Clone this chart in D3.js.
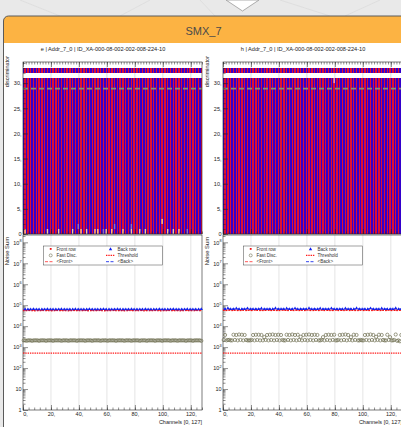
<!DOCTYPE html>
<html>
<head>
<meta charset="utf-8">
<script src="https://cdn.jsdelivr.net/npm/d3@7"></script>
<style>
body { margin: 0; background: #e9e9e9; overflow: hidden; }
svg { display: block; font-family: "Liberation Sans", Arial, sans-serif; }
</style>
</head>
<body>
<svg id="chart" width="401" height="427"></svg>
<script>
const headerTitle = "SMX_7";
const panelTitles = [
    "e | Addr_7_0 | ID_XA-000-08-002-002-008-224-10",
    "h | Addr_7_0 | ID_XA-000-08-002-002-008-224-10"
];
const nChannels = 128;
const chanTicks = [0, 20, 40, 60, 80, 100, 120];
const discTicks = [0, 5, 10, 15, 20, 25, 30];
const noiseDecades = [1, 10, 1e2, 1e3, 1e4, 1e5, 1e6, 1e7, 1e8];
const discFilledTop = 31;     // bins 0..30 filled in every channel
const discFastBin = 32;       // fast discriminator bin
const discMarkerLine = 28.9;  // grey dashed line
const noiseThreshold = 520;

// odd looking cells of the discriminator map: [channel, bin, kind]
const discCellsE = [
    [1, 0, "hot"], [17, 0, "hot"], [25, 0, "hot"], [35, 0, "hot"], [41, 0, "hot"], [45, 0, "hot"],
    [51, 0, "hot"], [53, 0, "hot"], [57, 0, "warm"], [59, 0, "hot"], [63, 0, "hot"], [71, 0, "hot"],
    [77, 0, "hot"], [83, 0, "hot"], [87, 0, "hot"], [103, 0, "hot"], [107, 0, "hot"], [111, 0, "hot"],
    [117, 0, "warm"], [39, 1, "warm"], [65, 1, "warm"], [77, 1, "warm"], [99, 2, "hot"]
];
const discCellsH = [[79, 30, "pale"]];

// noise sum (x1000) for front row (even channels) and back row (odd channels)
const noiseFrontE = [
    56, 56, 57, 56, 55, 56, 56, 57, 56, 56, 55, 56, 57, 56, 56, 56,
    55, 56, 57, 56, 56, 56, 57, 55, 56, 56, 56, 57, 56, 55, 56, 56,
    57, 56, 56, 56, 55, 56, 57, 56, 56, 56, 57, 55, 56, 56, 56, 57,
    56, 55, 56, 56, 57, 56, 56, 56, 55, 56, 57, 56, 56, 56, 57, 56
];
const noiseBackE = [
    64, 63, 64, 65, 64, 63, 64, 64, 65, 64, 63, 64, 64, 65, 64, 63,
    64, 64, 65, 64, 63, 64, 64, 65, 64, 63, 64, 64, 65, 64, 63, 64,
    64, 65, 64, 63, 64, 64, 65, 64, 63, 64, 64, 65, 64, 63, 64, 64,
    65, 64, 63, 64, 64, 65, 64, 63, 64, 64, 65, 64, 63, 64, 64, 65
];
const noiseFrontH = [
    58, 57, 60, 57, 58, 57, 57, 59, 57, 58, 57, 60, 58, 57, 57, 58,
    59, 57, 58, 57, 57, 60, 58, 57, 58, 57, 59, 57, 58, 57, 60, 57,
    57, 58, 57, 59, 57, 58, 57, 57, 60, 57, 58, 57, 59, 57, 58, 57,
    57, 59, 57, 58, 57, 57, 60, 58, 57, 58, 57, 59, 57, 58, 57, 58
];
const noiseBackH = [
    66, 72, 65, 66, 70, 65, 66, 65, 71, 66, 65, 66, 65, 70, 66, 65,
    66, 65, 72, 66, 65, 66, 70, 65, 66, 71, 65, 66, 65, 66, 72, 66,
    65, 66, 70, 65, 66, 65, 71, 66, 65, 66, 65, 70, 66, 65, 66, 72,
    66, 65, 66, 65, 71, 66, 65, 66, 70, 65, 66, 65, 66, 72, 65, 66
];
// fast discriminator counts (x100) per channel
const fastDiscE = [
    21, 21, 20, 21, 21, 21, 20, 21, 21, 21, 21, 20, 21, 21, 21, 21,
    20, 21, 21, 21, 21, 20, 21, 21, 21, 21, 21, 20, 21, 21, 21, 21,
    20, 21, 21, 21, 21, 21, 20, 21, 21, 21, 21, 21, 20, 21, 21, 21,
    21, 20, 21, 21, 21, 21, 21, 20, 21, 21, 21, 21, 20, 21, 21, 21,
    21, 21, 20, 21, 21, 21, 21, 21, 20, 21, 21, 21, 21, 20, 21, 21,
    21, 21, 21, 20, 21, 21, 21, 21, 20, 21, 21, 21, 21, 21, 20, 21,
    21, 21, 21, 20, 21, 21, 21, 21, 21, 20, 21, 21, 21, 21, 20, 21,
    21, 21, 21, 21, 20, 21, 21, 21, 21, 20, 21, 21, 21, 21, 21, 20
];
const fastDiscH = [
    22, 38, 21, 22, 22, 21, 21, 39, 22, 38, 21, 40, 22, 39, 21, 38,
    22, 21, 21, 21, 22, 38, 21, 39, 22, 39, 21, 38, 21, 30, 22, 38,
    21, 39, 22, 40, 21, 38, 22, 39, 21, 38, 22, 21, 21, 39, 22, 38,
    21, 40, 22, 38, 21, 39, 22, 31, 21, 38, 22, 39, 21, 40, 22, 38,
    21, 39, 22, 38, 21, 21, 22, 30, 21, 38, 22, 39, 21, 38, 22, 39,
    21, 21, 22, 38, 21, 39, 22, 40, 21, 38, 22, 30, 21, 39, 22, 38,
    21, 21, 22, 21, 21, 38, 22, 39, 21, 40, 22, 38, 21, 31, 22, 39,
    21, 38, 22, 21, 21, 39, 22, 30, 21, 21, 22, 40, 20, 21, 19, 38
];

const cellColours = { hot: "#ffc98a", warm: "#9c74a6", pale: "#f3a9b2" };
const evenColour = "#3300cc";
const oddColour = "#dd1133";
const fastColour = "#6f6f50";

const svg = d3.select("#chart");

// page background decoration
const deco = [[20, 0, 60, 16], [120, 16, 150, 0], [280, 0, 330, 16], [345, 16, 380, 0], [200, 0, 215, 16]];
svg.selectAll(".deco").data(deco).join("line")
    .attr("x1", d => d[0]).attr("y1", d => d[1]).attr("x2", d => d[2]).attr("y2", d => d[3])
    .attr("stroke", "#dcdcdc").attr("stroke-width", 0.8);
svg.append("path").attr("d", "M226,0 L242.5,11 L259,0 Z")
    .attr("fill", "#fff").attr("stroke", "#9a9a9a").attr("stroke-width", 0.8);

// panel
svg.append("path").attr("d", "M3.5,427 V43 H402 V427 Z").attr("fill", "#fff");
svg.append("path").attr("d", "M3.5,43 V21 A5,5 0 0 1 8.5,16 H402 V43 Z").attr("fill", "#fcb343");
svg.append("path").attr("d", "M3.5,427 V21 A5,5 0 0 1 8.5,16 H402")
    .attr("fill", "none").attr("stroke", "#5a5a5a").attr("stroke-width", 1);
svg.append("text").attr("x", 203.5).attr("y", 34.5).attr("text-anchor", "middle")
    .attr("font-size", 11).attr("fill", "#4a4a4a").text(headerTitle);

const drawPanel = (ox, title, cells, front, back, fast) => {
    const g = svg.append("g");
    const x = d3.scaleLinear().domain([0, nChannels]).range([23 + ox, 202 + ox]);
    const yD = d3.scaleLinear().domain([0, 34.2]).range([234, 62]);
    const yN = d3.scaleLog().domain([1, Math.pow(10, 8.35)]).range([410, 235]);
    const channels = d3.range(nChannels);
    const bw = x(1) - x(0);

    g.append("text").attr("x", 103 + ox).attr("y", 51.3).attr("text-anchor", "middle")
        .attr("font-size", 5.6).attr("fill", "#222").text(title);

    // ---------- discriminator map ----------
    g.selectAll(".gridD").data(chanTicks.slice(1)).join("line")
        .attr("x1", d => x(d)).attr("x2", d => x(d)).attr("y1", yD.range()[1]).attr("y2", yD.range()[0])
        .attr("stroke", "#c8c8c8").attr("stroke-width", 0.6);

    g.selectAll(".colD").data(channels).join("rect")
        .attr("x", d => x(d)).attr("width", bw)
        .attr("y", yD(discFilledTop)).attr("height", yD(0) - yD(discFilledTop))
        .attr("fill", d => d % 2 ? oddColour : evenColour)
        .attr("shape-rendering", "crispEdges");
    g.selectAll(".fastD").data(channels).join("rect")
        .attr("x", d => x(d)).attr("width", bw)
        .attr("y", yD(discFastBin + 1)).attr("height", yD(discFastBin) - yD(discFastBin + 1))
        .attr("fill", d => d % 2 ? oddColour : evenColour)
        .attr("shape-rendering", "crispEdges");
    g.selectAll(".cellD").data(cells).join("rect")
        .attr("x", d => x(d[0])).attr("width", bw)
        .attr("y", d => yD(d[1] + 1)).attr("height", yD(0) - yD(1))
        .attr("fill", d => cellColours[d[2]]);

    g.append("line").attr("x1", x(0)).attr("x2", x(nChannels))
        .attr("y1", yD(discMarkerLine)).attr("y2", yD(discMarkerLine))
        .attr("stroke", "#849276").attr("stroke-width", 1.6).attr("stroke-dasharray", "5,3");

    g.append("g").attr("transform", `translate(${x(0)},0)`)
        .call(d3.axisLeft(yD).tickValues(d3.range(0, 35)).tickSize(-2.5).tickFormat(""))
        .call(a => a.select(".domain").remove());
    g.append("g").attr("transform", `translate(${x(0)},0)`)
        .call(d3.axisLeft(yD).tickValues(discTicks).tickSize(-5).tickPadding(1.5)
            .tickFormat(d => d ? d + "," : "0"))
        .call(a => a.select(".domain").remove())
        .call(a => a.selectAll("text").attr("font-size", 5.5).attr("fill", "#222").attr("font-family", null));
    g.append("g").attr("transform", `translate(0,${yD.range()[1]})`)
        .call(d3.axisTop(x).tickValues(d3.range(0, 129, 2)).tickSize(-2.5).tickFormat(""))
        .call(a => a.select(".domain").remove());
    g.append("g").attr("transform", `translate(0,${yD.range()[1]})`)
        .call(d3.axisTop(x).tickValues(chanTicks).tickSize(-5).tickFormat(""))
        .call(a => a.select(".domain").remove());
    g.append("g").attr("transform", `translate(0,${yD.range()[0]})`)
        .call(d3.axisBottom(x).tickValues(d3.range(0, 129, 4)).tickSize(-2.5).tickFormat(""))
        .call(a => a.select(".domain").remove());
    g.append("g").attr("transform", `translate(0,${yD.range()[0]})`)
        .call(d3.axisBottom(x).tickValues(chanTicks).tickSize(-5).tickFormat(""))
        .call(a => a.select(".domain").remove());
    g.append("rect").attr("x", x(0)).attr("y", yD.range()[1])
        .attr("width", x(nChannels) - x(0)).attr("height", yD.range()[0] - yD.range()[1])
        .attr("fill", "none").attr("stroke", "#222").attr("stroke-width", 0.6);
    g.append("text").attr("transform", `translate(${9 + ox},56) rotate(-90)`)
        .attr("text-anchor", "end").attr("font-size", 5.5).attr("fill", "#222").text("discriminator");

    // ---------- noise sum ----------
    g.selectAll(".gridN").data(chanTicks.slice(1)).join("line")
        .attr("x1", d => x(d)).attr("x2", d => x(d)).attr("y1", yN.range()[1]).attr("y2", yN.range()[0])
        .attr("stroke", "#d2d2d2").attr("stroke-width", 0.6);

    const minorLog = [];
    noiseDecades.forEach(d => d3.range(2, 10).forEach(m => { if (d * m < yN.domain()[1]) minorLog.push(d * m); }));
    g.append("g").attr("transform", `translate(${x(0)},0)`)
        .call(d3.axisLeft(yN).tickValues(minorLog).tickSize(-2.5).tickFormat(""))
        .call(a => a.select(".domain").remove());
    g.append("g").attr("transform", `translate(${x(0)},0)`)
        .call(d3.axisLeft(yN).tickValues(noiseDecades).tickSize(-5).tickPadding(1.5).tickFormat(""))
        .call(a => a.select(".domain").remove())
        .call(a => a.selectAll(".tick text").each(function(d) {
            const t = d3.select(this).attr("font-size", 5.5).attr("fill", "#222").attr("font-family", null);
            const e = Math.round(Math.log10(d));
            if (e < 2) {
                t.text(d);
            } else {
                t.text("10");
                t.append("tspan").attr("dy", -2.3).attr("font-size", 3.8).text(e);
            }
        }));
    g.append("g").attr("transform", `translate(0,${yN.range()[0]})`)
        .call(d3.axisBottom(x).tickValues(d3.range(0, 129, 4)).tickSize(-2.5).tickFormat(""))
        .call(a => a.select(".domain").remove());
    g.append("g").attr("transform", `translate(0,${yN.range()[0]})`)
        .call(d3.axisBottom(x).tickValues(chanTicks).tickSize(-5).tickPadding(2.5).tickFormat(d => d + ","))
        .call(a => a.select(".domain").remove())
        .call(a => a.selectAll("text").attr("font-size", 5.5).attr("fill", "#222").attr("font-family", null)
            .attr("dx", d => d === 0 ? 2 : 0));
    g.append("rect").attr("x", x(0)).attr("y", yN.range()[1])
        .attr("width", x(nChannels) - x(0)).attr("height", yN.range()[0] - yN.range()[1])
        .attr("fill", "none").attr("stroke", "#222").attr("stroke-width", 0.6);
    g.append("text").attr("x", x(nChannels)).attr("y", 423.5).attr("text-anchor", "end")
        .attr("font-size", 5.5).attr("fill", "#222").text("Channels [0, 127]");
    g.append("text").attr("transform", `translate(${9 + ox},237) rotate(-90)`)
        .attr("text-anchor", "end").attr("font-size", 5.8).attr("fill", "#222").text("Noise Sum");

    // threshold
    g.append("line").attr("x1", x(0)).attr("x2", x(nChannels))
        .attr("y1", yN(noiseThreshold)).attr("y2", yN(noiseThreshold))
        .attr("stroke", "#ff1a1a").attr("stroke-width", 1.1).attr("stroke-dasharray", "1.4,0.9");

    // fast disc
    g.selectAll(".fastN").data(fast).join("circle")
        .attr("cx", (d, i) => x(i + 0.5)).attr("cy", d => yN(d * 100)).attr("r", 1.6)
        .attr("fill", "none").attr("stroke", fastColour).attr("stroke-width", 0.7);

    // means
    const meanF = d3.mean(front) * 1000;
    const meanB = d3.mean(back) * 1000;
    g.append("line").attr("x1", x(0)).attr("x2", x(nChannels)).attr("y1", yN(meanF)).attr("y2", yN(meanF))
        .attr("stroke", "#ff5555").attr("stroke-width", 1).attr("stroke-dasharray", "3,1.5");
    g.append("line").attr("x1", x(0)).attr("x2", x(nChannels)).attr("y1", yN(meanB)).attr("y2", yN(meanB))
        .attr("stroke", "#3344ee").attr("stroke-width", 1).attr("stroke-dasharray", "3,1.5");

    // front row squares, back row triangles
    g.selectAll(".frontN").data(front).join("rect")
        .attr("x", (d, i) => x(2 * i + 0.5) - 0.8).attr("y", d => yN(d * 1000) - 0.8)
        .attr("width", 1.6).attr("height", 1.6).attr("fill", "#ee1111");
    g.selectAll(".backN").data(back).join("path")
        .attr("d", d3.symbol(d3.symbolTriangle, 4.5))
        .attr("transform", (d, i) => `translate(${x(2 * i + 1.5)},${yN(d * 1000)})`)
        .attr("fill", "#1122ee");

    // legend
    const lg = g.append("g");
    lg.append("rect").attr("x", 43.5 + ox).attr("y", 246).attr("width", 119).attr("height", 19)
        .attr("fill", "#fff").attr("stroke", "#444").attr("stroke-width", 0.5);
    const lgText = [["Front row", 56.5, 250.8], ["Back row", 117.5, 250.8], ["Fast Disc.", 56.5, 257.1],
        ["Threshold", 117.5, 257.1], ["<Front>", 56.5, 263.4], ["<Back>", 117.5, 263.4]];
    lg.selectAll("text").data(lgText).join("text")
        .attr("x", d => d[1] + ox).attr("y", d => d[2]).attr("font-size", 4.6).attr("fill", "#333").text(d => d[0]);
    lg.append("rect").attr("x", 49.8 + ox).attr("y", 248).attr("width", 1.8).attr("height", 1.8).attr("fill", "#ee1111");
    lg.append("path").attr("d", d3.symbol(d3.symbolTriangle, 5)).attr("transform", `translate(${110.5 + ox},249.2)`).attr("fill", "#1122ee");
    lg.append("circle").attr("cx", 50.7 + ox).attr("cy", 255.4).attr("r", 1.5).attr("fill", "none").attr("stroke", fastColour).attr("stroke-width", 0.6);
    lg.append("line").attr("x1", 106 + ox).attr("x2", 115 + ox).attr("y1", 255.4).attr("y2", 255.4)
        .attr("stroke", "#ff1a1a").attr("stroke-width", 1.1).attr("stroke-dasharray", "1.4,0.9");
    lg.append("line").attr("x1", 45 + ox).attr("x2", 54 + ox).attr("y1", 261.7).attr("y2", 261.7)
        .attr("stroke", "#ff5555").attr("stroke-width", 1).attr("stroke-dasharray", "3,1.5");
    lg.append("line").attr("x1", 106 + ox).attr("x2", 115 + ox).attr("y1", 261.7).attr("y2", 261.7)
        .attr("stroke", "#3344ee").attr("stroke-width", 1).attr("stroke-dasharray", "3,1.5");
};

drawPanel(0, panelTitles[0], discCellsE, noiseFrontE, noiseBackE, fastDiscE);
drawPanel(200, panelTitles[1], discCellsH, noiseFrontH, noiseBackH, fastDiscH);

svg.selectAll(".tick line").attr("stroke", "#222").attr("stroke-width", 0.5);
</script>
</body>
</html>
